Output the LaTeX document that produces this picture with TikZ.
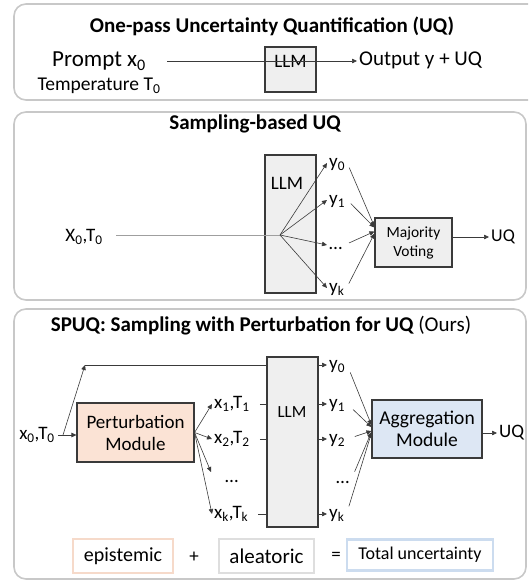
\documentclass[tikz,border=0pt]{standalone}
\usepackage{fontspec}
\setmainfont{Carlito}
\usetikzlibrary{arrows.meta}
\definecolor{panelgray}{HTML}{C8C8C8}
\definecolor{boxgray}{HTML}{EFEFEF}
\definecolor{peach}{HTML}{FBE3D5}
\definecolor{peachline}{HTML}{F6DACA}
\definecolor{paleblue}{HTML}{DDE7F4}
\definecolor{blueline}{HTML}{CCDCEF}
\definecolor{inkgray}{HTML}{3A3A3A}
\newcommand{\subx}[1]{\textsubscript{#1}}
\newcommand{\fs}[1]{\fontsize{#1}{#1}\selectfont}
\begin{document}
\begin{tikzpicture}[x=1pt, y=-1pt,
  every node/.style={font=\fs{19}},
  panel/.style={draw=panelgray, line width=1.6pt, rounded corners=12pt},
  title/.style={font=\fs{21}\bfseries},
  llmbox/.style={draw=inkgray, fill=boxgray, line width=1.1pt, minimum width=51pt},
  modbox/.style={draw=inkgray, line width=1.1pt, align=center, inner sep=0pt},
  lab/.style={anchor=west, inner xsep=2pt, inner ysep=0pt, text height=13pt, text depth=4pt},
  conn/.style={draw=inkgray, line width=0.6pt, -{Triangle[length=5pt,width=4.5pt]}},
  termbox/.style={fill=white, line width=2.5pt, minimum height=34pt, inner sep=0pt}]
  \useasboundingbox (0,0) rectangle (528,581);
  \clip (0,0) rectangle (528,581);
  % one-pass UQ
  \draw[panel] (14,4) rectangle (545,100);
  \node[title] (t1) at (272,26) {One-pass Uncertainty Quantification (UQ)};
  \node[align=center] (prm) at (99,73) {\fs{23}Prompt x\subx{0}\\[5pt]\fs{19.5}Temperature T\subx{0}};
  \node[llmbox, minimum height=45pt] (llm1) at (290.5,69.5) {};
  \node (llm1t) at (290.5,61) {LLM};
  \node[lab, font=\fs{21}] (out1) at (357,61) {Output y + UQ};
  \coordinate (in1) at (167,61);
  \draw[conn] (in1) -- (out1.west);
  % sampling-based UQ
  \draw[panel] (14,112) rectangle (526,300);
  \node[title] (t2) at (255,124) {Sampling-based UQ};
  \node (in2) at (84,237) {X\subx{0},T\subx{0}};
  \node[llmbox, minimum height=138pt] (llm2) at (290.5,224) {};
  \node (llm2t) at (287,183) {LLM};
  \coordinate (f2) at (280,235);
  \draw[gray!75, line width=0.9pt, shorten <=10pt] (in2.east |- f2) -- (f2);
  \node[modbox, fill=boxgray, minimum width=77pt, minimum height=49pt, font=\fontsize{15.5}{19}\selectfont] (vote) at (413.5,242.5) {Majority\\Voting};
  \foreach \i/\txt/\yy/\off in {0/y\subx{0}/163/16, 1/y\subx{1}/200/15, d/\ldots/245/11, k/y\subx{k}/288/9} {
    \node[lab] (s\i) at (327,\yy) {\txt};
    \draw[conn] (f2) -- (s\i.west);
    \draw[conn, shorten <=5pt] (s\i.east) -- ([yshift=\off pt]vote.west);
  }
  \node[lab, font=\fs{18}] (uq2) at (489,237) {UQ};
  \draw[conn] (vote.east |- uq2.west) -- (uq2.west);
  % SPUQ
  \draw[panel] (14,309) rectangle (526,579);
  \node[title] (t3) at (261,326) {SPUQ: Sampling with Perturbation for UQ {\mdseries(Ours)}};
  \node (in3) at (37,435) {x\subx{0},T\subx{0}};
  \node[modbox, fill=peach, minimum width=117pt, minimum height=59pt, font=\fontsize{19}{22}\selectfont] (pert) at (135.5,432.5) {Perturbation\\Module};
  \node[modbox, fill=paleblue, minimum width=110pt, minimum height=58pt, font=\fontsize{19.5}{22}\selectfont] (agg) at (427,429) {Aggregation\\Module};
  \draw[conn] (in3.east) -- (pert.west |- in3.east);
  \coordinate (b3) at (63,435);
  \coordinate (c3) at (85,365);
  \draw[conn] (b3) -- (c3);
  \node[lab] (r0) at (327,365) {y\subx{0}};
  \draw[conn] (c3) -- (r0.west);
  \foreach \i/\xt/\yt/\yy in {1/{x\subx{1},T\subx{1}}/y\subx{1}/404, 2/{x\subx{2},T\subx{2}}/y\subx{2}/439, k/{x\subx{k},T\subx{k}}/y\subx{k}/514} {
    \node[lab] (p\i) at (212,\yy) {\xt};
    \node[lab] (r\i) at (327,\yy) {\yt};
    \draw[conn] (pert.east) -- (p\i.west);
    \draw[conn, shorten <=8pt] (p\i.east) -- (r\i.west);
  }
  \node[lab] (pd) at (223,478) {\ldots};
  \coordinate (pdt) at (211,472);
  \draw[conn] (pert.east) -- (pdt);
  \node[lab] (rd) at (334,479) {\ldots};
  \node[llmbox, minimum height=170pt] (llm3) at (292.5,442) {};
  \node[font=\fs{17}] (llm3t) at (292,412) {LLM};
  \foreach \i/\off in {0/4, 1/2, 2/-2, d/-3, k/-4} {
    \draw[conn, shorten <=8pt] (r\i.east) -- ([yshift=\off pt]agg.west);
  }
  \node[lab] (uq3) at (497,433) {UQ};
  \draw[conn] (agg.east |- uq3.west) -- (uq3.west);
  % epistemic + aleatoric = total
  \node[termbox, draw=peachline, minimum width=100pt, font=\fs{20}] (epi) at (123,556) {epistemic};
  \node (plus) at (194,557) {+};
  \node[termbox, draw=panelgray!60, minimum width=95pt, font=\fs{21}] (alea) at (266.5,556) {aleatoric};
  \node (eq) at (336,556) {=};
  \node[termbox, draw=blueline, minimum width=146pt, minimum height=31pt, font=\fs{18}] (tot) at (420,555) {Total uncertainty};
\end{tikzpicture}
\end{document}
